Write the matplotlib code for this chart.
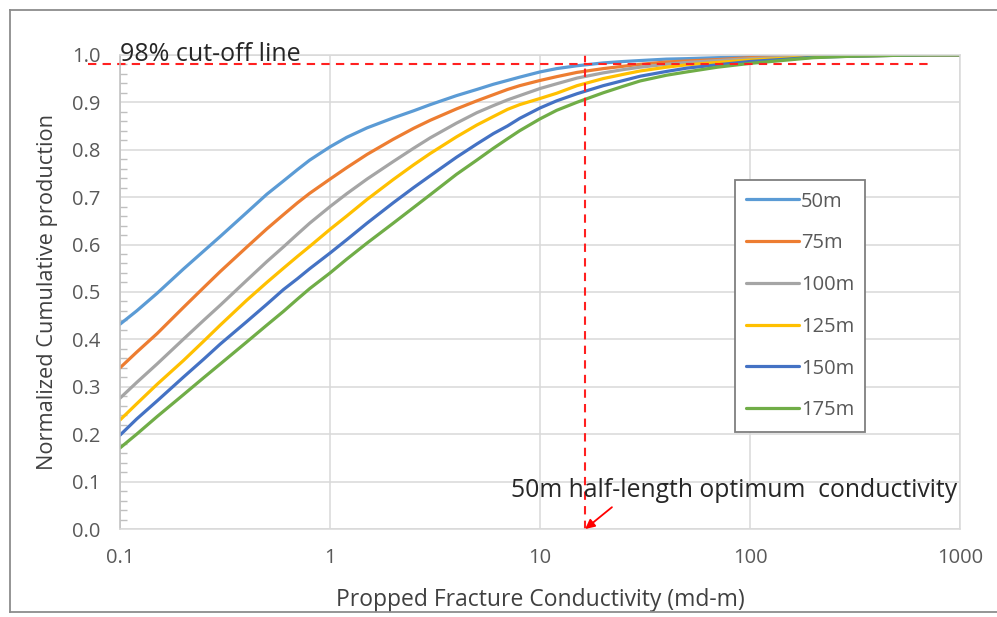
import numpy as np
import matplotlib.pyplot as plt
from matplotlib.lines import Line2D
from matplotlib.ticker import FixedLocator, MultipleLocator, FixedFormatter

plt.rcParams['font.family'] = ['Open Sans', 'DejaVu Sans']

# conductivity (md-m)
cond = [0.1, 0.12, 0.15, 0.2, 0.25, 0.3, 0.4, 0.5, 0.6, 0.7, 0.8, 1, 1.2, 1.5, 2, 2.5, 3, 4, 5, 6, 7, 8,
        10, 12, 15, 20, 25, 30, 40, 50, 70, 100, 150, 200, 300, 500, 700, 1000]

# normalized cumulative production for each fracture half-length
prod_50 = [0.432, 0.460, 0.497, 0.548, 0.586, 0.617, 0.667, 0.706, 0.734, 0.758, 0.778, 0.806,
           0.826, 0.846, 0.867, 0.882, 0.895, 0.914, 0.927, 0.938, 0.946, 0.953, 0.964, 0.971,
           0.977, 0.983, 0.986, 0.988, 0.991, 0.992, 0.994, 0.996, 0.997, 0.998, 0.999, 0.999,
           1.0, 1.0]
prod_75 = [0.340, 0.373, 0.412, 0.467, 0.509, 0.543, 0.594, 0.633, 0.663, 0.688, 0.708, 0.738,
           0.762, 0.790, 0.822, 0.845, 0.862, 0.886, 0.903, 0.916, 0.927, 0.935, 0.946, 0.954,
           0.963, 0.971, 0.976, 0.980, 0.985, 0.987, 0.990, 0.994, 0.996, 0.997, 0.998, 0.999,
           1.0, 1.0]
prod_100 = [0.276, 0.309, 0.348, 0.400, 0.440, 0.472, 0.524, 0.564, 0.595, 0.622, 0.645, 0.680,
            0.707, 0.738, 0.775, 0.803, 0.825, 0.856, 0.878, 0.893, 0.905, 0.914, 0.929, 0.939,
            0.951, 0.962, 0.969, 0.974, 0.980, 0.984, 0.988, 0.992, 0.995, 0.997, 0.998, 0.999,
            1.0, 1.0]
prod_125 = [0.230, 0.264, 0.305, 0.355, 0.396, 0.430, 0.482, 0.520, 0.550, 0.575, 0.596, 0.632,
            0.660, 0.695, 0.737, 0.768, 0.792, 0.827, 0.852, 0.870, 0.885, 0.895, 0.908, 0.919,
            0.935, 0.950, 0.959, 0.966, 0.974, 0.979, 0.984, 0.989, 0.993, 0.996, 0.998, 0.999,
            1.0, 1.0]
prod_150 = [0.198, 0.232, 0.270, 0.320, 0.358, 0.390, 0.437, 0.474, 0.505, 0.528, 0.549, 0.582,
            0.610, 0.645, 0.688, 0.720, 0.745, 0.784, 0.812, 0.834, 0.850, 0.866, 0.888, 0.903,
            0.918, 0.935, 0.946, 0.955, 0.965, 0.972, 0.979, 0.986, 0.991, 0.995, 0.997, 0.999,
            1.0, 1.0]
prod_175 = [0.171, 0.200, 0.237, 0.283, 0.319, 0.348, 0.394, 0.430, 0.459, 0.485, 0.507, 0.540,
            0.569, 0.603, 0.645, 0.678, 0.705, 0.748, 0.778, 0.803, 0.823, 0.840, 0.865, 0.883,
            0.900, 0.920, 0.934, 0.945, 0.957, 0.964, 0.974, 0.982, 0.989, 0.994, 0.997, 0.999,
            1.0, 1.0]

labels = ['50m', '75m', '100m', '125m', '150m', '175m']
colors = ['#5B9BD5', '#ED7D31', '#A5A5A5', '#FFC000', '#4472C4', '#70AD47']

x_ticks = [0.1, 1, 10, 100, 1000]
x_tick_labels = ['0.1', '1', '10', '100', '1000']

cutoff = 0.98
optimum = 16.4

fig = plt.figure(figsize=(9.97, 6.17), dpi=100)
ax = fig.add_axes([0.1204, 0.1426, 0.8425, 0.7685])

series = [prod_50, prod_75, prod_100, prod_125, prod_150, prod_175]
for y, lab, c in zip(series, labels, colors):
    ax.plot(cond, y, color=c, lw=2.3, label=lab, solid_capstyle='round', solid_joinstyle='round')

ax.set_xscale('log')
ax.set_xlim(0.1, 1000)
ax.set_ylim(0, 1.0)
ax.xaxis.set_major_locator(FixedLocator(x_ticks))
ax.xaxis.set_major_formatter(FixedFormatter(x_tick_labels))
ax.xaxis.set_minor_locator(FixedLocator([]))
ax.yaxis.set_major_locator(MultipleLocator(0.1))
ax.yaxis.set_major_formatter(plt.FormatStrFormatter('%.1f'))
ax.yaxis.set_minor_locator(MultipleLocator(0.02))

ax.grid(True, which='major', color='#D9D9D9', lw=1.1)
ax.set_axisbelow(True)
for s in ax.spines.values():
    s.set_color('#D9D9D9')
    s.set_linewidth(1.1)
ax.spines['left'].set_color('#BFBFBF')

ax.tick_params(axis='both', which='major', length=0, labelsize=14.5, labelcolor='#595959', pad=14)
ax.tick_params(axis='y', which='minor', direction='in', length=5, color='#BFBFBF', width=1)

ax.set_xlabel('Propped Fracture Conductivity (md-m)', fontsize=16.5, color='#404040', labelpad=14)
ax.set_ylabel('Normalized Cumulative production', fontsize=15.7, color='#404040', labelpad=10)

# cut-off and optimum lines
ax.plot([0.0704, 705], [cutoff, cutoff], color='#FF2020', lw=1.5, ls=(0, (4, 3)), clip_on=False)
ax.plot([optimum, optimum], [0, 1.0], color='#FF2020', lw=1.5, ls=(0, (4, 3)))

ax.text(0.1, 0.986, '98% cut-off line', fontsize=18, color='#262626', va='baseline', ha='left')
ax.text(0.4655, 0.082, '50m half-length optimum  conductivity', fontsize=17.8, color='#262626',
        va='center', ha='left', transform=ax.transAxes)
ax.annotate('', xy=(optimum, 0.0), xytext=(22, 0.046),
            arrowprops=dict(arrowstyle='-|>', color='#FF0000', lw=1.3, mutation_scale=14,
                            shrinkA=0, shrinkB=0))

leg = ax.legend(loc='upper left', bbox_to_anchor=(0.732, 0.736), borderaxespad=0, fontsize=14.5,
                frameon=True, fancybox=False, framealpha=1, edgecolor='#7F7F7F',
                handlelength=2.6, handletextpad=0.1, labelspacing=1.08, borderpad=0.57)
leg.get_frame().set_linewidth(1.3)
for t in leg.get_texts():
    t.set_color('#595959')

# outer chart frame
frame_kw = dict(color='#8C8C8C', lw=1.3, transform=fig.transFigure)
fig.add_artist(Line2D([10 / 997, 10 / 997], [1 - 10 / 617, 1 - 612 / 617], **frame_kw))
fig.add_artist(Line2D([10 / 997, 1.0], [1 - 10 / 617, 1 - 10 / 617], **frame_kw))
fig.add_artist(Line2D([10 / 997, 1.0], [1 - 612 / 617, 1 - 612 / 617], **frame_kw))

fig.savefig('out.png', dpi=100)
